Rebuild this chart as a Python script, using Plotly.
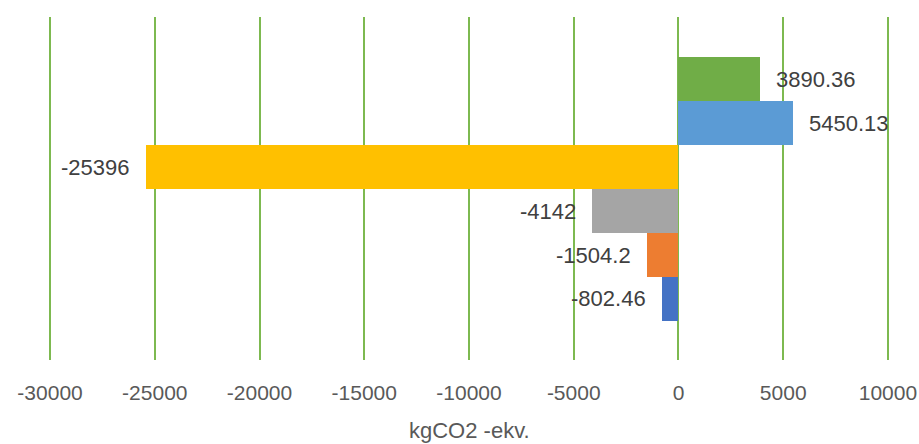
import plotly.graph_objects as go

# Series (bottom to top, as in the reference)
series_names = ["Serie 1", "Serie 2", "Serie 3", "Serie 4", "Serie 5", "Serie 6"]
values = [-802.46, -1504.2, -4142, -25396, 5450.13, 3890.36]
label_texts = ["-802.46", "-1504.2", "-4142", "-25396", "5450.13", "3890.36"]
colors = ["#4472C4", "#ED7D31", "#A5A5A5", "#FFC000", "#5B9BD5", "#70AD47"]
tick_vals = [-30000, -25000, -20000, -15000, -10000, -5000, 0, 5000, 10000]
x_title = "kgCO2 -ekv."

positions = list(range(len(values)))
FONT = "Liberation Sans, Arial, sans-serif"

fig = go.Figure()
fig.add_trace(go.Bar(
    x=values,
    y=positions,
    orientation="h",
    marker=dict(color=colors, line=dict(width=0)),
    width=1.0,
    hoverinfo="skip",
    showlegend=False,
))

for v, p, t in zip(values, positions, label_texts):
    fig.add_annotation(
        x=v, y=p, xref="x", yref="y",
        text=t, showarrow=False,
        xanchor="left" if v > 0 else "right",
        xshift=14 if v > 0 else -14,
        font=dict(family=FONT, size=22, color="#404040"),
    )

fig.add_annotation(
    x=0.5, y=-0.205, xref="paper", yref="paper",
    text=x_title, showarrow=False, xanchor="center", yanchor="middle",
    font=dict(family=FONT, size=22, color="#595959"),
)

fig.update_layout(
    width=919, height=444,
    margin=dict(l=49, r=30, t=17, b=84, autoexpand=False),
    paper_bgcolor="white", plot_bgcolor="white",
    bargap=0,
    xaxis=dict(
        range=[-30050, 10050],
        tickvals=tick_vals,
        ticktext=[str(t) for t in tick_vals],
        showgrid=True, gridcolor="#7DB950", gridwidth=2,
        zeroline=True, zerolinecolor="#7DB950", zerolinewidth=2,
        showline=False, ticks="",
        automargin=False,
        ticklabelstandoff=18,
        ticklabeloverflow="allow",
        tickfont=dict(family=FONT, size=21, color="#595959"),
    ),
    yaxis=dict(
        range=[-1.39, 6.42],
        automargin=False,
        showgrid=False, zeroline=False, showticklabels=False, showline=False, ticks="",
    ),
)

fig.write_html(
    "out.html",
    config={"displayModeBar": False, "responsive": False},
    post_script="document.body.style.margin='0';",
)
